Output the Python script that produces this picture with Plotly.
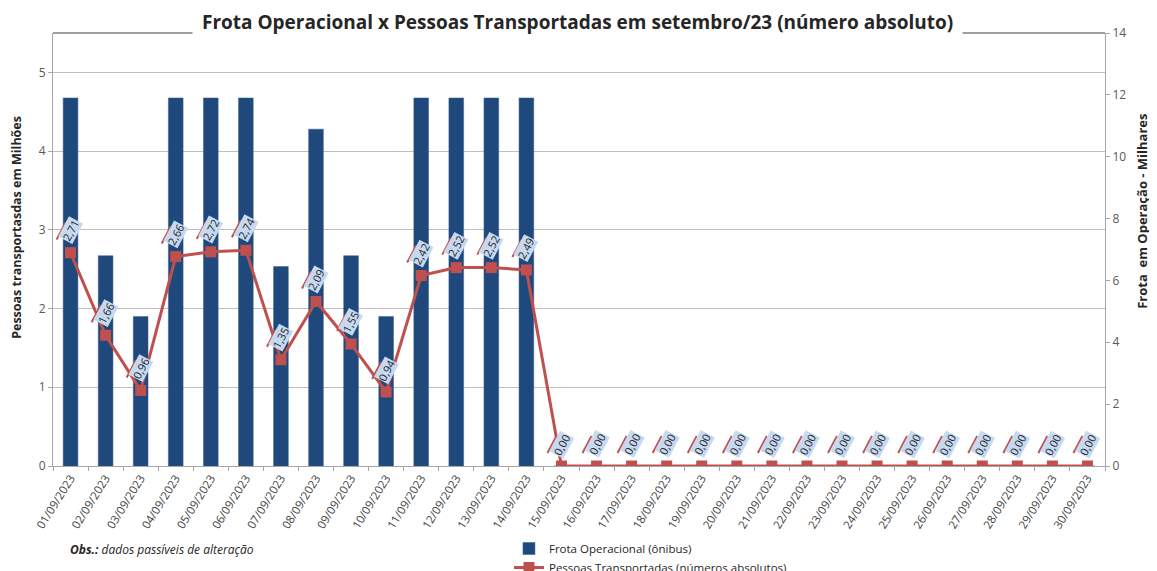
import plotly.graph_objects as go

dates = [f"{d:02d}/09/2023" for d in range(1, 31)]
frota = [11.9, 6.8, 4.83, 11.9, 11.9, 11.9, 6.45, 10.89, 6.8, 4.83, 11.9, 11.9, 11.9, 11.9] + [0] * 16
pessoas = [2.71, 1.66, 0.96, 2.66, 2.72, 2.74, 1.35, 2.09, 1.55, 0.94, 2.42, 2.52, 2.52, 2.49] + [0.0] * 16

BLUE = "#1F497D"
RED = "#C0504D"
FONT = "Open Sans"

fig = go.Figure()
fig.add_trace(go.Bar(
    x=dates, y=frota, name="Frota Operacional (ônibus)",
    marker=dict(color=BLUE, line=dict(color="#3A5F8F", width=0.5)),
    yaxis="y", width=0.42,
))
fig.add_trace(go.Scatter(
    x=dates, y=pessoas, name="Pessoas Transportadas (números absolutos)",
    mode="lines+markers", yaxis="y2",
    line=dict(color=RED, width=3),
    marker=dict(symbol="square", size=11, color=RED),
))

annotations = []
shapes = [dict(type="line", xref="paper", yref="paper", x0=0, x1=1, y0=1, y1=1,
               line=dict(color="#7F7F7F", width=1.5))]
for d, v in zip(dates, pessoas):
    lab = f"{v:.2f}".replace(".", ",")
    shapes.append(dict(
        type="line", xref="x", yref="y2", xsizemode="pixel", ysizemode="pixel",
        xanchor=d, yanchor=v, x0=-14, x1=-5, y0=13, y1=30,
        line=dict(color=RED, width=2),
    ))
    annotations.append(dict(
        x=d, y=v, xref="x", yref="y2", text=lab, showarrow=False,
        textangle=-62, yshift=22, bgcolor="#C6D9F1", borderpad=0,
        font=dict(family=FONT, size=11, color="#262626"),
    ))

annotations += [
    dict(text="<b>Frota Operacional x Pessoas Transportadas em setembro/23 (número absoluto)</b>",
         xref="paper", yref="paper", x=0.4985, y=1, yshift=11, showarrow=False,
         xanchor="center", yanchor="middle", bgcolor="white", borderpad=9,
         font=dict(family=FONT, size=19, color="#262626")),
    dict(text="<b>Pessoas transportasdas em Milhões</b>", xref="paper", yref="paper",
         x=0, xshift=-36, y=0.55, textangle=-90, showarrow=False,
         xanchor="center", yanchor="middle",
         font=dict(family=FONT, size=12.5, color="#262626")),
    dict(text="<b>Frota  em Operação - Milhares</b>", xref="paper", yref="paper",
         x=1, xshift=37, y=0.587, textangle=-90, showarrow=False,
         xanchor="center", yanchor="middle",
         font=dict(family=FONT, size=13, color="#262626")),
    dict(text="<b><i>Obs.:</i></b><i> dados passíveis de alteração</i>", xref="paper", yref="paper",
         x=0, xshift=15, y=0, yshift=-83, xanchor="left", yanchor="middle", showarrow=False,
         font=dict(family=FONT, size=12, color="#262626")),
]

fig.update_layout(
    width=1149, height=563,
    margin=dict(l=45, r=52, t=25, b=105, autoexpand=False),
    paper_bgcolor="white", plot_bgcolor="white",
    font=dict(family=FONT, color="#404040"),
    showlegend=True,
    legend=dict(xref="container", yref="container", x=0.436, y=0.0657,
                xanchor="left", yanchor="top", orientation="v",
                font=dict(family=FONT, size=11.5, color="#262626"),
                tracegroupgap=0, itemwidth=30, bgcolor="rgba(0,0,0,0)"),
    xaxis=dict(type="category", range=[-0.5, len(dates) - 0.5], tickangle=-58,
               tickson="boundaries", ticks="outside",
               ticklen=4, tickcolor="#A6A6A6", showline=True, linecolor="#A6A6A6",
               tickfont=dict(family=FONT, size=11.5, color="#404040"), showgrid=False,
               automargin=False),
    yaxis=dict(side="right", range=[0, 14], dtick=2, showgrid=False, showline=True,
               linecolor="#A6A6A6", ticks="outside", ticklen=4, tickcolor="#A6A6A6",
               tickfont=dict(family=FONT, size=12, color="#595959"), zeroline=False,
               automargin=False),
    yaxis2=dict(side="left", overlaying="y", range=[0, 5.5], dtick=1, showgrid=True,
                gridcolor="#BFBFBF", showline=True, linecolor="#A6A6A6", ticks="outside",
                ticklen=4, tickcolor="#A6A6A6", zeroline=False, automargin=False,
                tickfont=dict(family=FONT, size=12, color="#595959")),
    shapes=shapes,
    annotations=annotations,
    bargap=0.6,
)

fig.write_html("out.html")
